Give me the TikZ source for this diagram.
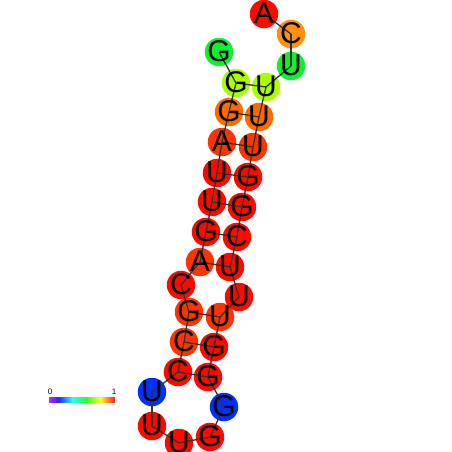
\documentclass[tikz,border=0pt]{standalone}
\usepackage{fontspec}
\setmainfont{Liberation Sans}
\definecolor{cred}{HTML}{FF0800}
\definecolor{cro}{HTML}{FF3300}
\definecolor{cor}{HTML}{FF6A00}
\definecolor{clo}{HTML}{FF9010}
\definecolor{cyg}{HTML}{AAFF00}
\definecolor{cgr}{HTML}{10F030}
\definecolor{cbl}{HTML}{0030FF}
\definecolor{cline}{HTML}{333333}
\tikzset{
  nt/.style={circle,minimum size=28.5pt,inner sep=0pt,draw=none},
  ltr/.style={inner sep=0pt,font=\fontsize{30}{30}\selectfont},
  bb/.style={draw=cline,line width=1.3pt},
  lbl/.style={inner sep=0pt,font=\fontsize{8}{8}\selectfont}
}
\begin{document}
\begin{tikzpicture}[x=1pt,y=-1pt]
\useasboundingbox (0,0) rectangle (452,452);
% circles
\foreach \i/\x/\y/\c in {
 1/219/52/cgr, 2/236/83/cyg, 3/229/112/cor, 4/222/142/cro, 5/217/173/cred,
 6/212/202/cred, 7/206/232/cred, 8/200/262/cro, 9/181/285/cred, 10/189/312/cro,
 11/184/342/cro, 12/178/372/cred, 13/152/392/cbl, 14/152/426/cred, 15/179/443/cred,
 16/210/437/cred, 17/224/407/cbl, 18/208/377/cred, 19/214/347/cred, 20/220/317/cro,
 21/239/297/cred, 22/230/267/cred, 23/237/237/cred, 24/242/207/cred, 25/248/177/cred,
 26/253/147/cro, 27/259/117/cor, 28/266/87/cyg, 29/291/66/cgr, 30/291/34/clo,
 31/264/14/cred}
 \node[nt,fill=\c] (n\i) at (\x,\y) {};
% backbone
\foreach \a/\b in {1/2,2/3,3/4,4/5,5/6,6/7,7/8,8/9,9/10,10/11,11/12,12/13,13/14,14/15,15/16,
 16/17,17/18,18/19,19/20,20/21,21/22,22/23,23/24,24/25,25/26,26/27,27/28,28/29,29/30,30/31}
 \draw[bb] (n\a.center) -- (n\b.center);
% base pairs
\foreach \a/\b in {2/28,3/27,4/26,5/25,6/24,7/23,8/22,10/20,11/19,12/18}
 \draw[bb] (n\a.center) -- (n\b.center);
% letters
\foreach \i/\t in {1/G,2/G,3/G,4/A,5/U,6/U,7/G,8/A,9/C,10/G,11/C,12/C,13/U,14/U,15/U,16/G,
 17/G,18/G,19/G,20/U,21/U,22/U,23/C,24/G,25/G,26/U,27/U,28/U,29/U,30/C,31/A}
 \node[ltr] (l\i) at ([yshift=1pt]n\i) {\t};
% colour bar
\foreach \k in {0,...,65}{
  \pgfmathsetmacro{\hh}{0.78*(1-\k/65)}
  \definecolor{tmpc}{hsb}{\hh,0.85,1}
  \fill[tmpc] (49+\k,397) rectangle (50.2+\k,402.5);
}
\node[lbl] (z0) at (50,392) {0};
\node[lbl] (z1) at (114,392) {1};
\end{tikzpicture}
\end{document}
